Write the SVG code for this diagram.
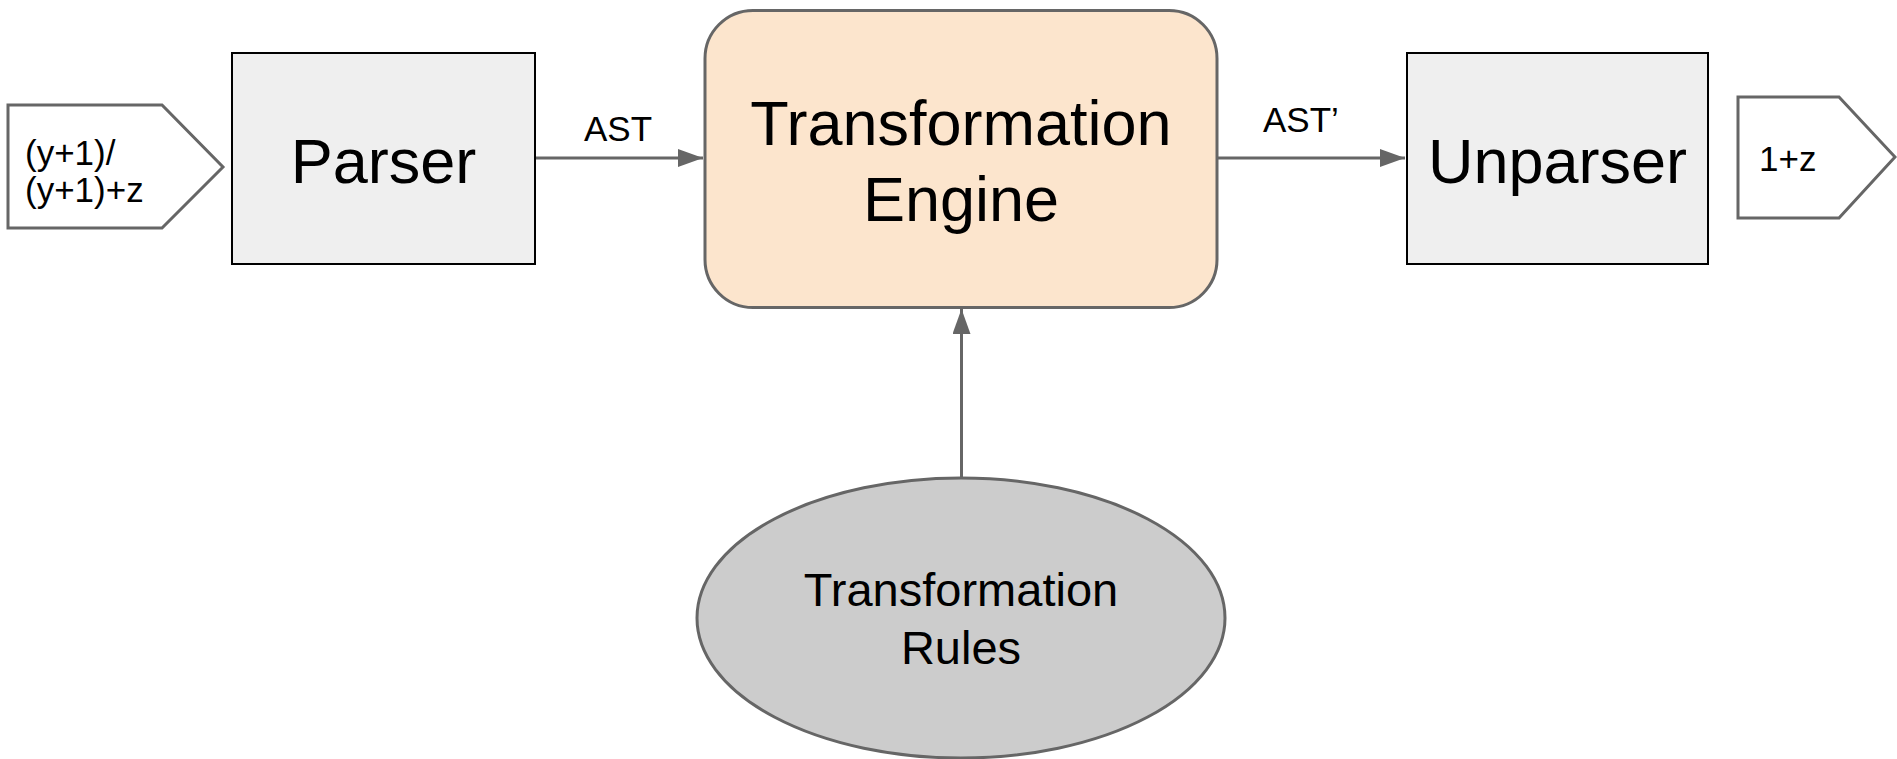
<svg xmlns="http://www.w3.org/2000/svg" width="1897" height="759" viewBox="0 0 1897 759">
<style>
text{font-family:"Liberation Sans",Arial,sans-serif;fill:#000}
.sm{font-size:35px}
.lg{font-size:63px}
.md{font-size:47px}
.box{fill:#efefef;stroke:#000;stroke-width:2}
.io{fill:#fff;stroke:#666;stroke-width:3}
.conn{stroke:#666;stroke-width:3;fill:none}
</style>
<defs>
<marker id="ah" markerUnits="userSpaceOnUse" markerWidth="25" markerHeight="18" refX="25" refY="9" orient="auto">
<path d="M0,0 L25,9 L0,18 z" fill="#666"/>
</marker>
</defs>
<g id="connectors">
<line class="conn" x1="535" y1="158" x2="703" y2="158" marker-end="url(#ah)"/>
<text class="sm" x="584" y="141">AST</text>
<line class="conn" x1="1217" y1="158" x2="1405" y2="158" marker-end="url(#ah)"/>
<text class="sm" x="1263" y="132">AST’</text>
<line class="conn" x1="961.5" y1="478" x2="961.5" y2="309" marker-end="url(#ah)"/>
</g>
<g id="input">
<path class="io" d="M8,105 L162,105 L223,167 L162,228 L8,228 Z"/>
<text class="sm" x="25" y="165">(y+1)/</text>
<text class="sm" x="25" y="202">(y+1)+z</text>
</g>
<g id="parser">
<rect class="box" x="232" y="53" width="303" height="211"/>
<text class="lg" x="383.5" y="183" text-anchor="middle">Parser</text>
</g>
<g id="engine">
<rect x="705" y="10.5" width="512" height="297" rx="48" ry="48" fill="#fce5cd" stroke="#666" stroke-width="3"/>
<text class="lg" x="961" y="145" text-anchor="middle">Transformation</text>
<text class="lg" x="961" y="221" text-anchor="middle">Engine</text>
</g>
<g id="unparser">
<rect class="box" x="1407" y="53" width="301" height="211"/>
<text class="lg" x="1557.5" y="183" text-anchor="middle">Unparser</text>
</g>
<g id="output">
<path class="io" d="M1738,97 L1839,97 L1895,157 L1839,218 L1738,218 Z"/>
<text class="sm" x="1759" y="171">1+z</text>
</g>
<g id="rules">
<ellipse cx="961" cy="618" rx="264" ry="140" fill="#ccc" stroke="#666" stroke-width="3"/>
<text class="md" x="961" y="606" text-anchor="middle">Transformation</text>
<text class="md" x="961" y="664" text-anchor="middle">Rules</text>
</g>
</svg>
